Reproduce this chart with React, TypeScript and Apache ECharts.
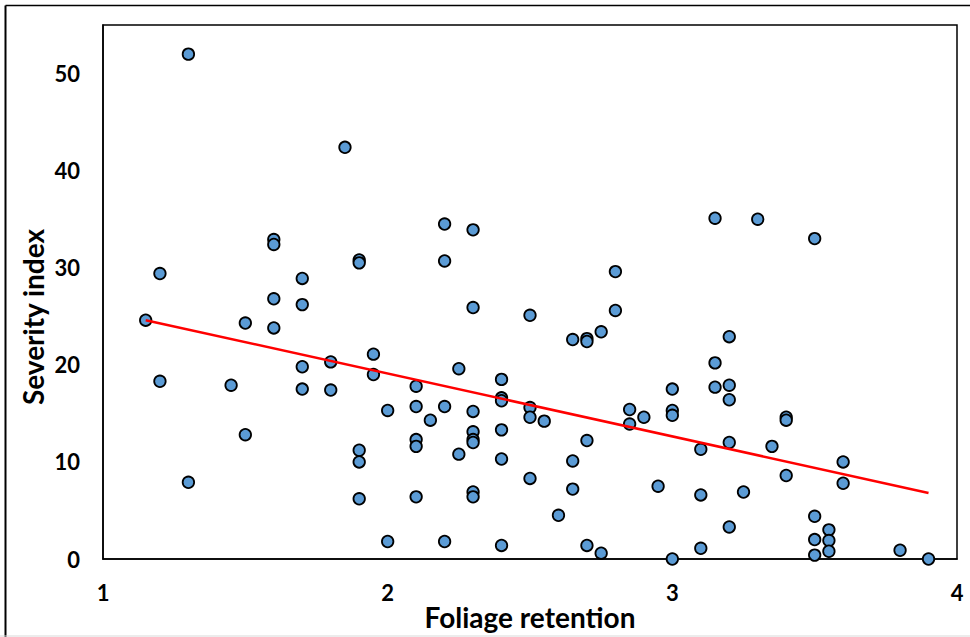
import React, { useEffect, useRef } from "react";
import * as echarts from "echarts";

const foliageRetention: number[] = [
  1.15, 1.2, 1.2, 1.3, 1.3, 1.45, 1.5, 1.5, 1.6, 1.6, 1.6, 1.6, 1.7, 1.7, 1.7, 1.7,
  1.8, 1.8, 1.85, 1.9, 1.9, 1.9, 1.9, 1.9, 1.95, 1.95, 2.0, 2.0, 2.1, 2.1, 2.1, 2.1,
  2.1, 2.15, 2.2, 2.2, 2.2, 2.2, 2.25, 2.25, 2.3, 2.3, 2.3, 2.3, 2.3, 2.3, 2.3, 2.3,
  2.4, 2.4, 2.4, 2.4, 2.4, 2.4, 2.5, 2.5, 2.5, 2.5, 2.55, 2.6, 2.65, 2.65, 2.65, 2.7,
  2.7, 2.7, 2.7, 2.75, 2.75, 2.8, 2.8, 2.85, 2.85, 2.9, 2.95, 3.0, 3.0, 3.0, 3.0, 3.1,
  3.1, 3.1, 3.15, 3.15, 3.15, 3.2, 3.2, 3.2, 3.2, 3.2, 3.25, 3.3, 3.35, 3.4, 3.4, 3.4,
  3.5, 3.5, 3.5, 3.5, 3.55, 3.55, 3.55, 3.6, 3.6, 3.8, 3.9,
];

const severityIndex: number[] = [
  24.6, 29.4, 18.3, 52.0, 7.9, 17.9, 24.3, 12.8, 32.9, 32.4, 26.8, 23.8, 28.9, 26.2, 19.8, 17.5,
  20.3, 17.4, 42.4, 30.8, 30.5, 11.2, 10.0, 6.2, 21.1, 19.0, 15.3, 1.8, 17.8, 15.7, 12.3, 11.6,
  6.4, 14.3, 34.5, 30.7, 15.7, 1.8, 19.6, 10.8, 33.9, 25.9, 15.2, 13.1, 12.3, 12.0, 6.9, 6.4,
  18.5, 16.6, 16.3, 13.3, 10.3, 1.4, 25.1, 15.6, 14.6, 8.3, 14.2, 4.5, 22.6, 10.1, 7.2, 22.7,
  22.4, 12.2, 1.4, 23.4, 0.6, 29.6, 25.6, 15.4, 13.9, 14.6, 7.5, 17.5, 15.3, 14.8, 0.0, 11.3,
  6.6, 1.1, 35.1, 20.2, 17.7, 22.9, 17.9, 16.4, 12.0, 3.3, 6.9, 35.0, 11.6, 14.6, 14.3, 8.6,
  33.0, 4.4, 2.0, 0.4, 3.0, 1.9, 0.8, 10.0, 7.8, 0.9, 0.0,
];

const trendX: number[] = [1.15, 3.9];
const trendY: number[] = [24.6, 6.8];

const xTitle = "Foliage retention";
const yTitle = "Severity index";

const FONT = "Lato, 'Open Sans', 'Noto Sans', sans-serif";

export default function App() {
  const ref = useRef<HTMLDivElement>(null);

  useEffect(() => {
    document.body.style.margin = "0";
    if (!ref.current) return;
    const chart = echarts.init(ref.current, null, { renderer: "svg" });
    const points = foliageRetention.map((x, i) => [x, severityIndex[i]]);
    const trend = trendX.map((x, i) => [x, trendY[i]]);
    chart.setOption({
      animation: false,
      backgroundColor: "#ffffff",
      grid: {
        left: 103,
        top: 25,
        right: 13,
        bottom: 78,
        show: true,
        borderColor: "#000000",
        borderWidth: 1.5,
        backgroundColor: "transparent",
      },
      xAxis: {
        type: "value",
        min: 1,
        max: 4,
        interval: 1,
        axisLine: { show: true, lineStyle: { color: "#000000", width: 1.5 } },
        axisTick: { show: false },
        splitLine: { show: false },
        axisLabel: {
          margin: 22,
          color: "#000000",
          fontFamily: FONT,
          fontWeight: "bold",
          fontSize: 22,
        },
      },
      yAxis: {
        type: "value",
        min: 0,
        max: 55,
        interval: 10,
        axisLine: { show: true, lineStyle: { color: "#000000", width: 1.5 } },
        axisTick: { show: false },
        splitLine: { show: false },
        axisLabel: {
          margin: 23,
          showMaxLabel: false,
          color: "#000000",
          fontFamily: FONT,
          fontWeight: "bold",
          fontSize: 22,
          formatter: (v: number) => (v > 50 ? "" : String(v)),
        },
      },
      series: [
        {
          type: "line",
          data: trend,
          symbol: "none",
          lineStyle: { color: "#ff0000", width: 2.5 },
          z: 3,
        },
        {
          type: "scatter",
          data: points,
          symbol: "circle",
          symbolSize: 11.5,
          itemStyle: {
            color: "#5b9bd5",
            borderColor: "#000000",
            borderWidth: 1.8,
            opacity: 1,
          },
          z: 2,
        },
      ],
      graphic: [
        {
          type: "line",
          shape: { x1: 5.5, y1: 5.5, x2: 970, y2: 5.5 },
          style: { stroke: "#000000", lineWidth: 1.5 },
        },
        {
          type: "line",
          shape: { x1: 5.5, y1: 5.5, x2: 5.5, y2: 637 },
          style: { stroke: "#000000", lineWidth: 2 },
        },
        {
          type: "line",
          shape: { x1: 0, y1: 636, x2: 970, y2: 636 },
          style: { stroke: "#d9d9d9", lineWidth: 1 },
        },
        {
          type: "text",
          x: 530,
          y: 617,
          style: {
            text: xTitle,
            align: "center",
            verticalAlign: "middle",
            fill: "#000000",
            font: `bold 28px ${FONT}`,
          },
        },
        {
          type: "text",
          x: 33,
          y: 317,
          rotation: Math.PI / 2,
          style: {
            text: yTitle,
            align: "center",
            verticalAlign: "middle",
            fill: "#000000",
            font: `bold 28px ${FONT}`,
          },
        },
      ],
    });
    return () => chart.dispose();
  }, []);

  return <div ref={ref} style={{ width: 970, height: 637 }} />;
}
